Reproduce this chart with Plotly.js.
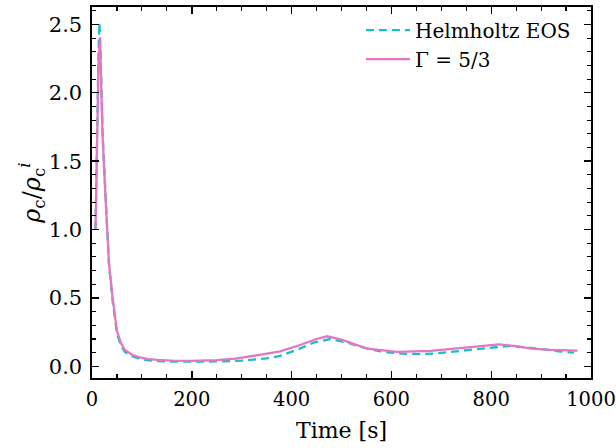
<!DOCTYPE html>
<html>
<head>
<meta charset="utf-8">
<script src="https://cdn.plot.ly/plotly-3.0.1.min.js"></script>
<style>html,body{margin:0;padding:0;background:#fff;}#chart{width:616px;height:448px;}</style>
</head>
<body>
<div id="chart"></div>
<script>
// Helmholtz EOS series
const helmT = [7, 10, 13, 15, 18, 21, 27, 34, 41, 50, 58, 66, 80, 92, 110, 130, 160, 200, 250, 300, 350, 377, 410, 444, 478, 510, 545, 575, 598, 630, 659, 690, 725, 760, 793, 833, 870, 900, 935, 966];
const helmRho = [1.0, 1.75, 2.3, 2.51, 2.2, 1.72, 1.22, 0.74, 0.49, 0.24, 0.15, 0.105, 0.075, 0.06, 0.045, 0.038, 0.034, 0.033, 0.036, 0.042, 0.058, 0.077, 0.12, 0.173, 0.2, 0.175, 0.137, 0.112, 0.1, 0.092, 0.089, 0.095, 0.108, 0.122, 0.137, 0.149, 0.14, 0.125, 0.11, 0.1];
// Gamma = 5/3 series
const gammaT = [7, 10, 13, 16, 21, 27, 34, 41, 50, 58, 66, 80, 92, 110, 130, 160, 200, 250, 287, 330, 377, 420, 450, 471, 500, 551, 612, 679, 746, 785, 816, 850, 880, 920, 950, 973];
const gammaRho = [1.0, 1.7, 2.2, 2.4, 1.7, 1.24, 0.756, 0.51, 0.26, 0.17, 0.12, 0.085, 0.07, 0.055, 0.047, 0.042, 0.04, 0.046, 0.056, 0.08, 0.11, 0.16, 0.2, 0.22, 0.195, 0.13, 0.106, 0.113, 0.137, 0.153, 0.16, 0.148, 0.13, 0.12, 0.117, 0.115];

const xTicks = [0, 200, 400, 600, 800, 1000];
const yTicks = [0.0, 0.5, 1.0, 1.5, 2.0, 2.5];
const yTickText = ["0.0", "0.5", "1.0", "1.5", "2.0", "2.5"];

const FONT = "DejaVu Serif";

const traces = [
  {x: helmT, y: helmRho, type: "scatter", mode: "lines", name: "Helmholtz EOS",
   line: {color: "#17becf", width: 2.3, dash: "8px,5px"}},
  {x: gammaT, y: gammaRho, type: "scatter", mode: "lines", name: "Γ = 5/3",
   line: {color: "#e377c2", width: 2.3}}
];

const axisCommon = {
  showgrid: false, zeroline: false, showline: true, mirror: "allticks",
  linecolor: "#000", linewidth: 1.6, ticks: "inside", ticklen: 7, tickwidth: 1.4,
  tickcolor: "#000", tickfont: {family: FONT, size: 21, color: "#000"},
  ticklabeloverflow: "allow"
};

const layout = {
  width: 616, height: 448,
  margin: {l: 92, r: 25, t: 7, b: 70},
  paper_bgcolor: "#fff", plot_bgcolor: "#fff",
  font: {family: FONT, size: 21, color: "#000"},
  showlegend: true,
  legend: {x: 0.539, y: 0.99, xanchor: "left", yanchor: "top", bgcolor: "rgba(0,0,0,0)",
           itemwidth: 44,
           font: {family: FONT, size: 20, color: "#000"}, tracegroupgap: 0},
  xaxis: Object.assign({}, axisCommon, {
    range: [0, 1000], tickmode: "array", tickvals: xTicks,
    tickfont: {family: FONT, size: 19.5, color: "#000"},
    minor: {dtick: 50, ticks: "inside", ticklen: 4, tickwidth: 1.1, tickcolor: "#000", showgrid: false},
    ticklabelstandoff: 3,
    title: {text: "Time [s]", font: {family: FONT, size: 22, color: "#000"}, standoff: 12}
  }),
  yaxis: Object.assign({}, axisCommon, {
    range: [-0.085, 2.627], tickmode: "array", tickvals: yTicks, ticktext: yTickText,
    minor: {dtick: 0.1, ticks: "inside", ticklen: 4, tickwidth: 1.1, tickcolor: "#000", showgrid: false},
    ticklabelstandoff: 4,
    title: {text: "<i>ρ</i><sub>c</sub>/<i>ρ</i><sub>c</sub><sup><i>i</i></sup>", font: {family: FONT, size: 24, color: "#000"}, standoff: 0}
  })
};

Plotly.newPlot("chart", traces, layout, {displayModeBar: false, staticPlot: true});
</script>
</body>
</html>
